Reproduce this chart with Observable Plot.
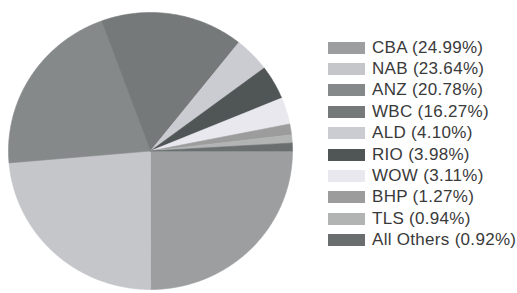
<!DOCTYPE html>
<html>
<head>
<meta charset="utf-8">
<script src="https://cdn.jsdelivr.net/npm/d3@7"></script>
<script src="https://cdn.jsdelivr.net/npm/@observablehq/plot@0.6"></script>
<style>
  html, body { margin: 0; padding: 0; background: #fff; }
  #wrap { position: relative; width: 517px; height: 293px; font-family: "Liberation Sans", Arial, sans-serif; }
  #pie { position: absolute; left: 0; top: 0; }
  #legend { position: absolute; left: 328px; top: 37px; }
  .item { display: flex; align-items: center; height: 21.4px; font-size: 17px; letter-spacing: 0.3px; color: #3a3a3a; white-space: nowrap; }
  .sw { width: 37px; height: 12px; margin-right: 7px; flex: none; }
</style>
</head>
<body>
<div id="wrap"><div id="pie"></div><div id="legend"></div></div>
<script>
const names = ["CBA", "NAB", "ANZ", "WBC", "ALD", "RIO", "WOW", "BHP", "TLS", "All Others"];
const shares = [24.99, 23.64, 20.78, 16.27, 4.10, 3.98, 3.11, 1.27, 0.94, 0.92];
const colors = ["#9c9ea0", "#c4c6ca", "#868989", "#767979", "#cbccd2", "#505555", "#e8e8ee", "#9c9c9c", "#b2b4b4", "#6a6e6e"];

// slice polygons from d3.pie angles (compass angles, clockwise from north)
const arcs = d3.pie().sort(null).startAngle(Math.PI / 2).endAngle(Math.PI / 2 + 2 * Math.PI)(shares);
const pts = [];
arcs.forEach((a, i) => {
  const n = Math.max(2, Math.ceil((a.endAngle - a.startAngle) / 0.01));
  pts.push({name: names[i], x: 0, y: 0});
  for (let k = 0; k <= n; k++) {
    const t = a.startAngle + (a.endAngle - a.startAngle) * k / n;
    pts.push({name: names[i], x: Math.sin(t), y: Math.cos(t)});
  }
  pts.push({name: names[i], x: 0, y: 0});
});

const plot = Plot.plot({
  width: 300,
  height: 293,
  marginLeft: 8,
  marginRight: 8,
  marginTop: 12,
  marginBottom: 4,
  x: {domain: [-1, 1], axis: null},
  y: {domain: [-1, 1], axis: null},
  color: {domain: names, range: colors},
  marks: [
    Plot.line(pts, {x: "x", y: "y", z: "name", fill: "name", stroke: "name", strokeWidth: 0.6, curve: "linear-closed"})
  ]
});
document.getElementById("pie").appendChild(plot);

const color = plot.scale("color");
const lg = d3.select("#legend");
names.forEach((n, i) => {
  const it = lg.append("div").attr("class", "item");
  it.append("div").attr("class", "sw").style("background", color.apply(n));
  it.append("span").text(`${n} (${shares[i].toFixed(2)}%)`);
});
</script>
</body>
</html>
